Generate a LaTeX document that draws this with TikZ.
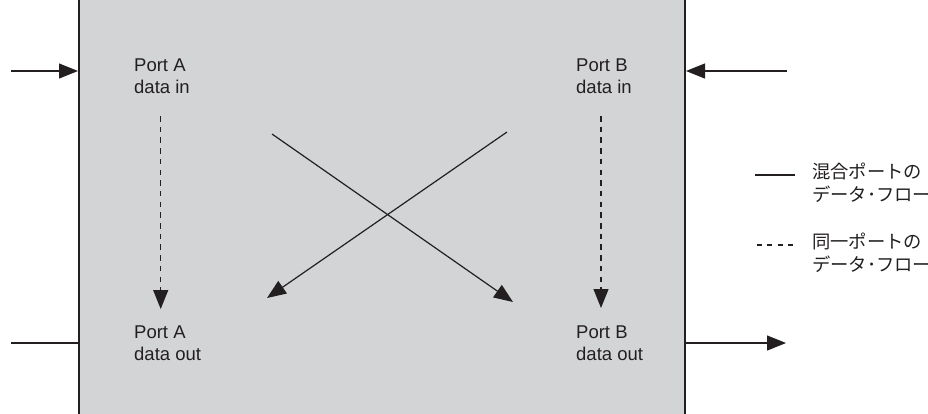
\documentclass[tikz,border=0pt]{standalone}
\usepackage{fontspec}
\setmainfont{Liberation Sans}
\newfontfamily\jpfont{Noto Sans CJK JP}
\usetikzlibrary{arrows.meta}
\definecolor{panel}{RGB}{211,212,214}
\definecolor{ink}{RGB}{35,31,32}

\begin{document}
\begin{tikzpicture}[x=1pt,y=-1pt,
  flow/.style={draw=ink, line width=1.2pt},
  tip/.style={-{Triangle[length=19pt,width=15pt]}},
  samedash/.style={dash pattern=on 5.5pt off 5.2pt},
  keydash/.style={dash pattern=on 5pt off 5.3pt},
  lbl/.style={anchor=north west, inner sep=0pt, align=left, text=ink,
    font=\fontsize{18.5}{22}\selectfont},
  key/.style={anchor=west, inner sep=0pt, align=left, text=ink,
    font=\jpfont\fontsize{18.3}{23}\selectfont}]
\useasboundingbox (0,0) rectangle (928,413);
\begin{scope}
  \clip (0,0) rectangle (928,413);

  % device panel, open at top and bottom
  \fill[panel] (79,-3) rectangle (685,416);
  \draw[ink, line width=1.4pt] (79,-3) -- (79,416) (685,-3) -- (685,416);

  % port labels
  \node[lbl] (ainl)  at (134,58.7)  {Port A\\data in};
  \node[lbl] (aoutl) at (134,325.7) {Port A\\data out};
  \node[lbl] (binl)  at (576,58.7)  {Port B\\data in};
  \node[lbl] (boutl) at (576,325.7) {Port B\\data out};

  % external lines
  \coordinate (ainext)  at (11,71);
  \coordinate (ainedge) at (78,71);
  \coordinate (binext)  at (787,71);
  \coordinate (binedge) at (686,71);
  \coordinate (aoutext)  at (11,343);
  \coordinate (aoutedge) at (79,343);
  \coordinate (boutedge) at (685,343);
  \coordinate (boutext)  at (786,343);
  \draw[flow, tip] (ainext) -- (ainedge);
  \draw[flow, tip] (binext) -- (binedge);
  \draw[flow] (aoutext) -- (aoutedge);
  \draw[flow, tip] (boutedge) -- (boutext);

  % same-port flow
  \coordinate (asrc) at (160.7,116);
  \coordinate (adst) at (160.7,309);
  \coordinate (bsrc) at (601,116);
  \coordinate (bdst) at (601,308);
  \draw[flow, samedash, tip] (asrc) -- (adst);
  \draw[flow, samedash, tip] (bsrc) -- (bdst);

  % mixed-port flow
  \coordinate (xa) at (272,134);
  \coordinate (xad) at (513,302);
  \coordinate (xb) at (507,132);
  \coordinate (xbd) at (267,298);
  \draw[flow, tip] (xa) -- (xad);
  \draw[flow, tip] (xb) -- (xbd);

  % legend
  \coordinate (k1a) at (755,175);
  \coordinate (k1b) at (795,175);
  \coordinate (k2a) at (757,245);
  \coordinate (k2b) at (793,245);
  \draw[flow] (k1a) -- (k1b);
  \draw[flow, keydash] (k2a) -- (k2b);
  \node[key] (k1t) at (812,183) {混合ポートの\\データ･フロー};
  \node[key] (k2t) at (812,253) {同一ポートの\\データ･フロー};
\end{scope}
\end{tikzpicture}
\end{document}
